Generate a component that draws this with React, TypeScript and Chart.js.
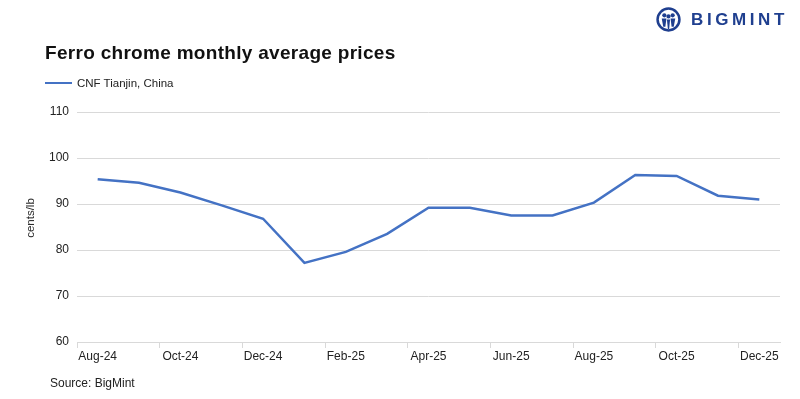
import React, { useEffect, useRef } from "react";
import { Chart, registerables } from "chart.js";

Chart.register(...registerables);

const months = [
  "Aug-24", "Sep-24", "Oct-24", "Nov-24", "Dec-24", "Jan-25", "Feb-25", "Mar-25", "Apr-25",
  "May-25", "Jun-25", "Jul-25", "Aug-25", "Sep-25", "Oct-25", "Nov-25", "Dec-25",
];
const cnfTianjin = [95.4, 94.6, 92.5, 89.7, 86.8, 77.2, 79.6, 83.5, 89.2, 89.2, 87.5, 87.5, 90.3, 96.3, 96.1, 91.8, 91.0];
const seriesName = "CNF Tianjin, China";
const yTitle = "cents/lb";
const yMin = 60;
const yMax = 110;
const yStep = 10;

const sans = "'Liberation Sans', Arial, sans-serif";

export default function App() {
  const ref = useRef<HTMLCanvasElement | null>(null);
  useEffect(() => {
    if (!ref.current) return;
    const chart = new Chart(ref.current, {
      type: "line",
      data: {
        labels: months,
        datasets: [
          {
            label: seriesName,
            data: cnfTianjin,
            borderColor: "#4472c4",
            backgroundColor: "#4472c4",
            borderWidth: 2.5,
            pointRadius: 0,
            tension: 0,
          },
        ],
      },
      options: {
        animation: false,
        responsive: false,
        maintainAspectRatio: false,
        layout: { padding: { top: 112, right: 20, left: 0, bottom: 0 } },
        plugins: { legend: { display: false }, tooltip: { enabled: false } },
        scales: {
          x: {
            offset: true,
            afterFit: (s: any) => { s.height = 57; },
            grid: {
              drawOnChartArea: false,
              drawTicks: true,
              tickLength: 6,
              offset: true,
              color: (ctx: any) => (ctx.index % 2 === 0 ? "#d9d9d9" : "rgba(0,0,0,0)"),
            },
            border: { display: true, color: "#d9d9d9" },
            ticks: {
              autoSkip: false,
              maxRotation: 0,
              padding: 1,
              color: "#222",
              font: { family: sans, size: 12 },
              callback: (_v: any, i: number) => (i % 2 === 0 ? months[i] : ""),
            },
          },
          y: {
            min: yMin,
            max: yMax,
            afterFit: (s: any) => { s.width = 77; },
            grid: { color: "#d9d9d9", drawTicks: false, lineWidth: 1 },
            border: { display: false },
            ticks: {
              stepSize: yStep,
              padding: 8,
              color: "#222",
              font: { family: sans, size: 12 },
            },
          },
        },
      },
    });
    return () => chart.destroy();
  }, []);

  return (
    <div style={{ position: "absolute", left: 0, top: 0, width: 800, height: 399, background: "#fff", fontFamily: sans }}>
      <canvas ref={ref} width={800} height={399} style={{ position: "absolute", left: 0, top: 0 }} />
      <div style={{ position: "absolute", left: 45, top: 42, fontSize: 19, fontWeight: 700, color: "#111", whiteSpace: "nowrap", letterSpacing: 0.3 }}>
        Ferro chrome monthly average prices
      </div>
      <div style={{ position: "absolute", left: 45, top: 77, display: "flex", alignItems: "center", whiteSpace: "nowrap" }}>
        <div style={{ width: 27, height: 2.5, background: "#4472c4", marginRight: 5 }} />
        <span style={{ fontSize: 11.5, color: "#222" }}>{seriesName}</span>
      </div>
      <div
        style={{
          position: "absolute",
          left: 0,
          top: 211,
          width: 60,
          height: 14,
          lineHeight: "14px",
          textAlign: "center",
          transform: "rotate(-90deg)",
          transformOrigin: "30px 7px",
          fontSize: 11.5,
          color: "#222",
          whiteSpace: "nowrap",
        }}
      >
        {yTitle}
      </div>
      <div style={{ position: "absolute", left: 50, top: 376, fontSize: 12, color: "#222", whiteSpace: "nowrap" }}>
        Source: BigMint
      </div>
      <div style={{ position: "absolute", left: 656, top: 7, display: "flex", alignItems: "center", whiteSpace: "nowrap" }}>
        <svg width="25" height="25" viewBox="0 0 24 24">
          <circle cx="12" cy="12" r="10.5" fill="none" stroke="#1f3f8f" strokeWidth="2.4" />
          <circle cx="8" cy="8" r="2" fill="#1f3f8f" />
          <circle cx="16" cy="8" r="2" fill="#1f3f8f" />
          <circle cx="12" cy="9" r="2" fill="#1f3f8f" />
          <path d="M5.5 11 L10 11 L9 19 L7 19 Z" fill="#1f3f8f" />
          <path d="M14 11 L18.5 11 L17 19 L15 19 Z" fill="#1f3f8f" />
          <path d="M10.5 12 L13.5 12 L12.6 21 L11.4 21 Z" fill="#1f3f8f" />
        </svg>
        <span style={{ marginLeft: 10, fontSize: 17, fontWeight: 700, color: "#1f3f8f", letterSpacing: 3.6 }}>BIGMINT</span>
      </div>
    </div>
  );
}
